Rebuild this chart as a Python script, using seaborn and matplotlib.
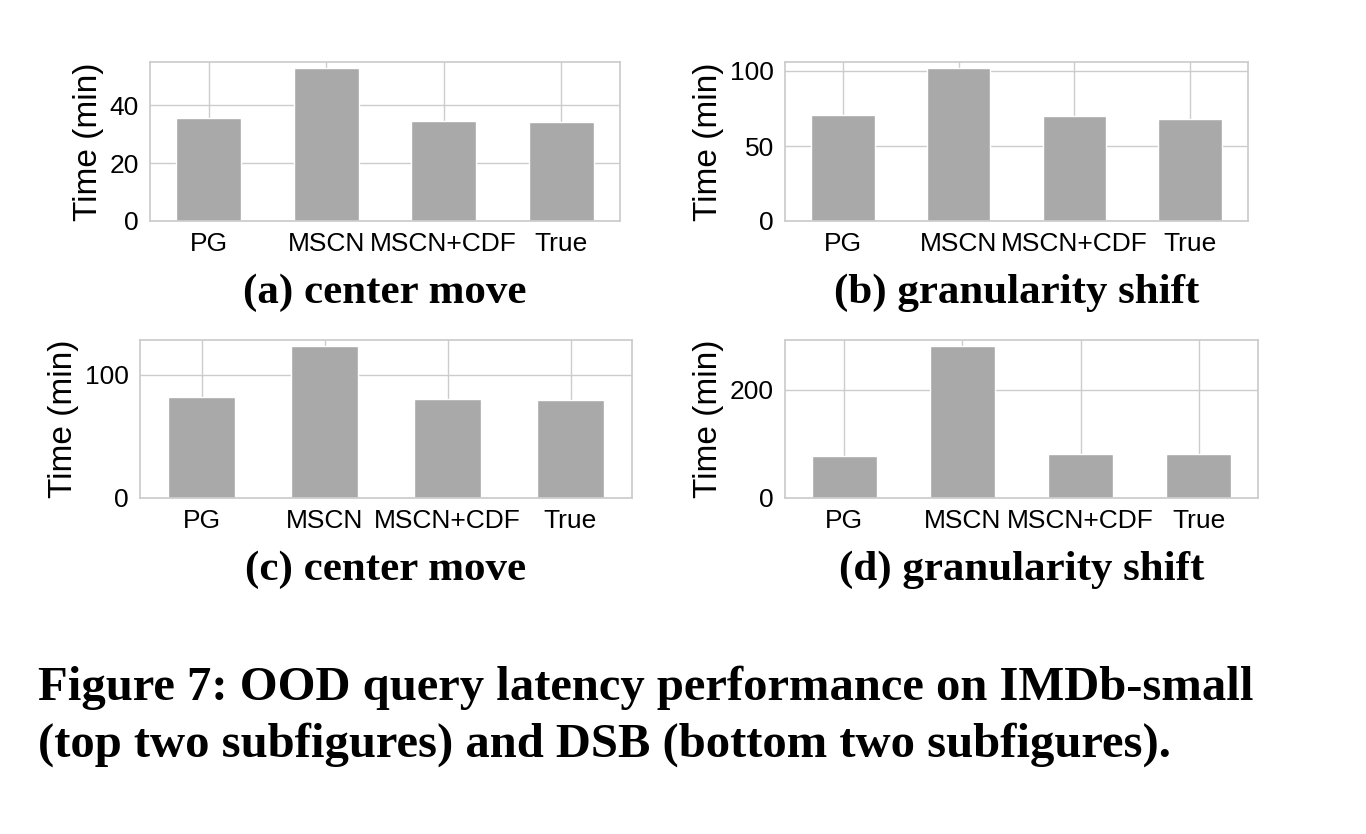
import matplotlib
matplotlib.use("Agg")
import matplotlib.pyplot as plt
import seaborn as sns
import pandas as pd

methods = ["PG", "MSCN", "MSCN+CDF", "True"]
imdb_center = [35.5, 53.0, 34.5, 34.3]
imdb_gran = [71, 102, 70, 68]
dsb_center = [82, 123, 80, 79]
dsb_gran = [78, 280, 82, 81]

captions = ["(a) center move", "(b) granularity shift",
            "(c) center move", "(d) granularity shift"]
ylims = [55, 106, 128, 292]

sns.set_theme(style="whitegrid")
plt.rcParams['font.family'] = ['Liberation Sans', 'DejaVu Sans']
plt.rcParams['text.color'] = 'black'
plt.rcParams['axes.labelcolor'] = 'black'
plt.rcParams['xtick.color'] = 'black'
plt.rcParams['ytick.color'] = 'black'

W, H = 1366, 834
fig = plt.figure(figsize=(W / 100, H / 100), dpi=100)

# axes boxes in pixels: left, top, right, bottom
boxes = [(150, 62, 620, 221), (785, 62, 1248, 221),
         (140, 340, 632, 498), (785, 340, 1258, 498)]
series = [imdb_center, imdb_gran, dsb_center, dsb_gran]

for (l, t, r, b), vals, cap, ym in zip(boxes, series, captions, ylims):
    ax = fig.add_axes([l / W, 1 - b / H, (r - l) / W, (b - t) / H])
    df = pd.DataFrame({"method": methods, "time": vals})
    sns.barplot(data=df, x="method", y="time", color="#a9a9a9",
                saturation=1, width=0.55, ax=ax)
    ax.set_ylim(0, ym)
    ax.set_xlabel("")
    ax.set_ylabel("Time (min)", fontsize=24, labelpad=4)
    ax.tick_params(axis="both", labelsize=19, pad=2)
    for s in ax.spines.values():
        s.set_edgecolor("#cccccc")
    ax.grid(True, axis="both", color="#cccccc")
    fig.text((l + r) / 2 / W, 1 - (b + 72) / H, cap, ha="center", va="center",
             fontsize=31, fontweight="bold", family="Liberation Serif")

fig.text(38 / W, 1 - 688 / H,
         "Figure 7: OOD query latency performance on IMDb-small",
         ha="left", va="center", fontsize=35, fontweight="bold",
         family="Liberation Serif")
fig.text(38 / W, 1 - 745 / H,
         "(top two subfigures) and DSB (bottom two subfigures).",
         ha="left", va="center", fontsize=35, fontweight="bold",
         family="Liberation Serif")

fig.savefig("out.png", dpi=100)
